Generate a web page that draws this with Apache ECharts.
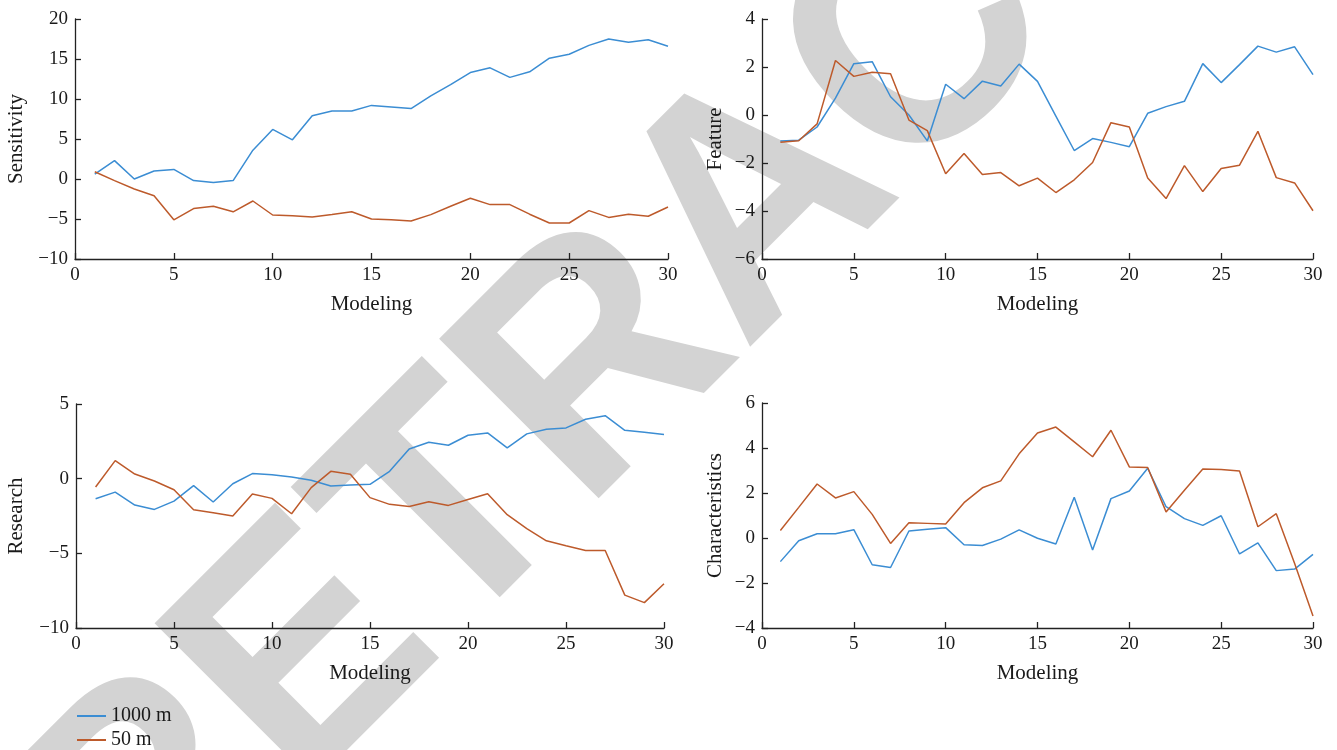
<!DOCTYPE html>
<html>
<head>
<meta charset="utf-8">
<script src="https://cdn.jsdelivr.net/npm/echarts@6/dist/echarts.min.js"></script>
<style>
html,body{margin:0;padding:0;background:#fff;}
#chart{width:1337px;height:750px;}
</style>
</head>
<body>
<div id="chart"></div>
<script>
const modeling = [1,2,3,4,5,6,7,8,9,10,11,12,13,14,15,16,17,18,19,20,21,22,23,24,25,26,27,28,29,30];
const seriesNames = ['1000 m', '50 m'];
const panelTitles = ['Sensitivity', 'Feature', 'Research', 'Characteristics'];
const xAxisTitle = 'Modeling';
const watermarkText = 'RETRACTED';

const sensitivity1000 = [0.6,2.3,0.0,1.0,1.2,-0.2,-0.45,-0.2,3.6,6.2,4.9,7.9,8.5,8.5,9.2,9.0,8.8,10.4,11.8,13.3,13.9,12.7,13.4,15.1,15.6,16.7,17.5,17.1,17.4,16.6];
const sensitivity50 = [0.9,-0.2,-1.25,-2.1,-5.1,-3.7,-3.4,-4.1,-2.75,-4.5,-4.6,-4.75,-4.45,-4.1,-5.0,-5.1,-5.25,-4.45,-3.4,-2.4,-3.2,-3.2,-4.4,-5.5,-5.5,-3.95,-4.8,-4.4,-4.65,-3.5];

const feature1000 = [-1.08,-1.05,-0.5,0.7,2.14,2.22,0.76,0.0,-1.08,1.28,0.68,1.41,1.21,2.12,1.4,-0.05,-1.48,-0.98,-1.14,-1.32,0.07,0.35,0.57,2.14,1.35,2.1,2.87,2.62,2.84,1.68];
const feature50 = [-1.14,-1.07,-0.37,2.27,1.61,1.78,1.72,-0.21,-0.65,-2.45,-1.6,-2.48,-2.4,-2.95,-2.63,-3.23,-2.7,-1.98,-0.32,-0.5,-2.63,-3.48,-2.11,-3.19,-2.23,-2.09,-0.68,-2.61,-2.83,-3.99];

const research1000 = [-1.34,-0.9,-1.77,-2.06,-1.5,-0.47,-1.56,-0.34,0.34,0.27,0.11,-0.11,-0.49,-0.42,-0.38,0.49,1.99,2.44,2.24,2.91,3.06,2.06,3.0,3.31,3.4,3.98,4.22,3.24,3.11,2.95];
const research50 = [-0.56,1.21,0.31,-0.16,-0.74,-2.08,-2.28,-2.5,-1.03,-1.32,-2.35,-0.6,0.49,0.29,-1.27,-1.72,-1.86,-1.54,-1.79,-1.39,-1.01,-2.41,-3.35,-4.16,-4.49,-4.81,-4.81,-7.8,-8.3,-7.04];

const characteristics1000 = [-1.05,-0.12,0.19,0.19,0.37,-1.19,-1.31,0.31,0.39,0.46,-0.3,-0.33,-0.05,0.36,-0.01,-0.27,1.81,-0.53,1.75,2.09,3.1,1.39,0.86,0.56,0.99,-0.71,-0.22,-1.45,-1.38,-0.73];
const characteristics50 = [0.33,1.36,2.4,1.78,2.06,1.05,-0.24,0.68,0.65,0.62,1.57,2.23,2.54,3.74,4.67,4.93,4.27,3.61,4.79,3.16,3.13,1.16,2.12,3.07,3.04,2.98,0.5,1.08,-1.13,-3.47];

const yMins = [-10, -6, -10, -4];
const yMaxs = [20, 4, 5, 6];
const yIntervals = [5, 2, 5, 2];

const panelData = [
  [sensitivity1000, sensitivity50],
  [feature1000, feature50],
  [research1000, research50],
  [characteristics1000, characteristics50]
];

const COLORS = ['#3b8dd3', '#bd5a2b'];
const FONT = '"Liberation Serif", "DejaVu Serif", serif';
const TXT = '#1a1a1a';

const grids = [
  {left: 75, top: 19, width: 593, height: 240},
  {left: 762, top: 19, width: 551, height: 240},
  {left: 76, top: 404, width: 588, height: 224},
  {left: 762, top: 403, width: 551, height: 225}
];
const yNameGaps = [48, 36, 49, 36];

function fmt(v) { return String(v).replace('-', '\u2212'); }

const axisLine = {show: true, onZero: false, lineStyle: {color: '#222', width: 1.3}};
const axisTick = {show: true, inside: true, length: 6, lineStyle: {color: '#222', width: 1.3}};

const xAxes = grids.map((g, i) => ({
  type: 'value', gridIndex: i, min: 0, max: 30, interval: 5,
  name: xAxisTitle, nameLocation: 'middle', nameGap: 35,
  nameTextStyle: {fontFamily: FONT, fontSize: 21, color: TXT},
  axisLine: axisLine, axisTick: axisTick, splitLine: {show: false},
  axisLabel: {fontFamily: FONT, fontSize: 19, color: TXT, margin: 7, formatter: fmt, showMinLabel: true, showMaxLabel: true}
}));
const yAxes = grids.map((g, i) => ({
  type: 'value', gridIndex: i, min: yMins[i], max: yMaxs[i], interval: yIntervals[i],
  name: panelTitles[i], nameLocation: 'middle', nameGap: yNameGaps[i],
  nameTextStyle: {fontFamily: FONT, fontSize: 21, color: TXT},
  axisLine: axisLine, axisTick: axisTick, splitLine: {show: false},
  axisLabel: {fontFamily: FONT, fontSize: 19, color: TXT, margin: 7, formatter: fmt, showMinLabel: true, showMaxLabel: true}
}));

const series = [];
panelData.forEach((pair, i) => {
  pair.forEach((vals, k) => {
    series.push({
      type: 'line', name: seriesNames[k], xAxisIndex: i, yAxisIndex: i,
      data: modeling.map((m, j) => [m, vals[j]]),
      showSymbol: false, symbol: 'none',
      lineStyle: {color: COLORS[k], width: 1.5},
      itemStyle: {color: COLORS[k]},
      z: 3, animation: false
    });
  });
});

const chart = echarts.init(document.getElementById('chart'), null, {renderer: 'canvas'});
chart.setOption({
  animation: false,
  backgroundColor: '#ffffff',
  grid: grids.map(g => Object.assign({containLabel: false, outerBoundsMode: 'none'}, g)),
  xAxis: xAxes,
  yAxis: yAxes,
  legend: {
    data: seriesNames.map(n => ({name: n, icon: 'rect'})),
    orient: 'vertical', left: 77, top: 706,
    itemWidth: 29, itemHeight: 2, itemGap: 4,
    textStyle: {fontFamily: FONT, fontSize: 20, color: TXT, padding: [0,0,0,0]},
    padding: 0
  },
  graphic: [{
    type: 'text', x: 761, y: 208, rotation: Math.PI / 4, scaleX: 0.96, scaleY: 1, z: -100, silent: true,
    style: {
      text: watermarkText, x: 0, y: 0,
      font: 'bold 328px "Liberation Sans", Arial, sans-serif',
      fill: '#d3d3d3', textAlign: 'center', textVerticalAlign: 'middle'
    }
  }],
  series: series
});
</script>
</body>
</html>
